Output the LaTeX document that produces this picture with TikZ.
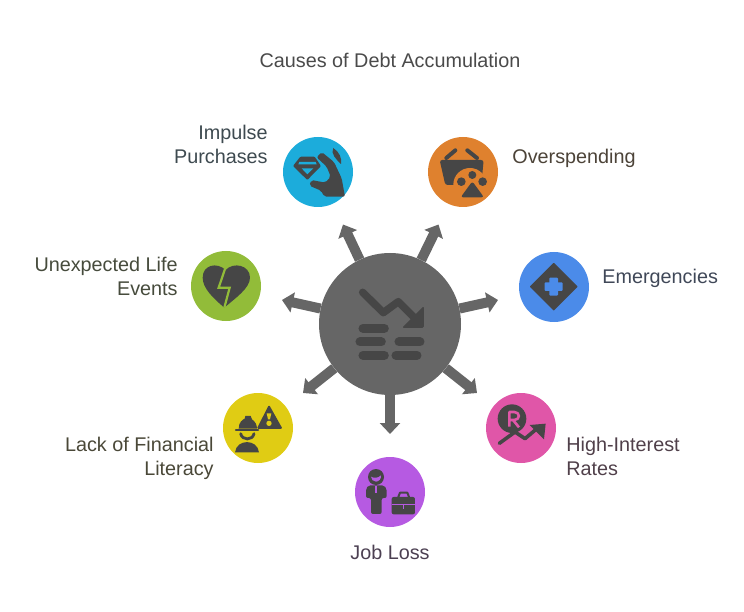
\documentclass[tikz,border=0pt]{standalone}
\usepackage{fontspec}
\setmainfont{Liberation Sans}
\usetikzlibrary{arrows.meta, positioning}
\definecolor{hubgray}{HTML}{666666}
\definecolor{icondark}{HTML}{464646}
\definecolor{impulseblue}{HTML}{1CACDB}
\definecolor{spendorange}{HTML}{DF812E}
\definecolor{emergblue}{HTML}{4B8BE9}
\definecolor{lifegreen}{HTML}{92BC39}
\definecolor{literacyyellow}{HTML}{E0CC14}
\definecolor{jobpurple}{HTML}{B65AE2}
\definecolor{ratepink}{HTML}{E056A8}
\definecolor{titletext}{HTML}{4A4A4A}
\definecolor{impulsetext}{HTML}{3E4A50}
\definecolor{spendtext}{HTML}{4C4338}
\definecolor{emergtext}{HTML}{404858}
\definecolor{lifetext}{HTML}{464B3C}
\definecolor{literacytext}{HTML}{4A4838}
\definecolor{jobtext}{HTML}{4C4052}
\definecolor{ratestext}{HTML}{50404A}
\begin{document}
\begin{tikzpicture}[
        x=1pt, y=-1pt,
        cause/.style={circle, fill=#1, inner sep=0pt, minimum size=70pt},
        label/.style={inner sep=0pt, font=\fontsize{19.8}{24}\selectfont, text=#1},
        hubarrow/.style={draw=hubgray, line width=10pt, -{Triangle[width=20pt,length=11pt]}},
        crop/.style={shift={(#1)}, x=0.3333pt, y=-0.3333pt},
        ico/.style={fill=icondark, draw=none},
        icoline/.style={draw=icondark, line width=#1, line cap=round, line join=round}
    ]
    \useasboundingbox (0,0) rectangle (744,612);

    \node[circle, fill=hubgray, inner sep=0pt, minimum size=142pt] (hub) at (390,324) {};
    \node[cause=impulseblue] (impulse) at (318,172) {};
    \node[cause=spendorange] (spend) at (463,172) {};
    \node[cause=emergblue] (emerg) at (554,287) {};
    \node[cause=lifegreen] (life) at (226,286) {};
    \node[cause=literacyyellow] (literacy) at (258,428) {};
    \node[cause=jobpurple] (job) at (390,492) {};
    \node[cause=ratepink] (rates) at (521,428) {};

    \coordinate (tipimpulse) at (343,224.5);
    \coordinate (tipspend) at (438.5,224.5);
    \coordinate (tipemerg) at (498,300);
    \coordinate (tiplife) at (282,300);
    \coordinate (tipliteracy) at (303,393);
    \coordinate (tipjob) at (390,434);
    \coordinate (tiprates) at (477,393);
    \draw[hubarrow] (hub) -- (tipimpulse);
    \draw[hubarrow] (hub) -- (tipspend);
    \draw[hubarrow] (hub) -- (tipemerg);
    \draw[hubarrow] (hub) -- (tiplife);
    \draw[hubarrow] (hub) -- (tipliteracy);
    \draw[hubarrow] (hub) -- (tipjob);
    \draw[hubarrow] (hub) -- (tiprates);

    \node[label=titletext] (title) at (390,60) {Causes of Debt Accumulation};
    \node[label=impulsetext, align=right, left=15pt of impulse, yshift=28pt] (impulselabel) {Impulse\\Purchases};
    \node[label=spendtext, right=14pt of spend, yshift=14pt] (spendlabel) {Overspending};
    \node[label=emergtext, right=13pt of emerg, yshift=9pt] (emerglabel) {Emergencies};
    \node[label=lifetext, align=right, left=13pt of life, yshift=10pt] (lifelabel) {Unexpected Life\\Events};
    \node[label=literacytext, align=right, left=9pt of literacy, yshift=-30pt] (literacylabel) {Lack of Financial\\Literacy};
    \node[label=jobtext, below=18pt of job] (joblabel) {Job Loss};
    \node[label=ratestext, align=left, right=10pt of rates, yshift=-28pt] (rateslabel) {High-Interest\\Rates};

    % hub icon
    \begin{scope}[crop={290,220}]
        \draw[icoline=7.5pt] (218,217) -- (280,278) -- (325,245) -- (375,295);
        \fill[ico, rounded corners=1.5pt] (402,258) -- (402,324) -- (336,324) -- cycle;
        \draw[icoline=9pt] (219,325) -- (283,325);
        \draw[icoline=9pt] (210,366) -- (274,366);
        \draw[icoline=9pt] (327,366) -- (390,366);
        \draw[icoline=9pt] (219,406) -- (283,406);
        \draw[icoline=9pt] (318,406) -- (381,406);
    \end{scope}

    % impulse icon
    \begin{scope}[crop={270,120}]
        \fill[ico, rounded corners=1pt] (91,110) -- (134,110) -- (153,138) -- (112,180) -- (69,138) -- cycle;
        \fill[impulseblue] (88,126) -- (137,126) -- (140,133) -- (85,133) -- cycle;
        \fill[impulseblue] (95,145) -- (130,145) -- (112,163) -- cycle;
        \fill[ico, rounded corners=2pt] (140,112) -- (155,96) -- (192,126) -- (215,175) -- (225,230) -- (163,230) -- (153,212) -- (118,197) -- (124,180) -- (166,188) -- (182,170) -- (170,140) -- cycle;
        \fill[ico] (190,84) .. controls (207,95) and (217,115) .. (213,132) .. controls (200,120) and (180,100) .. (190,84) -- cycle;
    \end{scope}

    % overspending icon
    \begin{scope}[crop={270,120}]
        \draw[icoline=4pt] (529,114) -- (556,91);
        \draw[icoline=4pt] (592,91) -- (621,114);
        \fill[ico, rounded corners=2.5pt] (509,120) -- (641,120) -- (634,195) -- (526,195) -- cycle;
        \fill[spendorange] (600,194) circle (50);
        \fill[ico] (607,165) circle (12);
        \fill[ico] (574,185) circle (13);
        \fill[ico] (638,185) circle (13);
        \fill[ico, rounded corners=2.5pt] (607,184) -- (642,232) -- (572,232) -- cycle;
    \end{scope}

    % emergencies icon
    \begin{scope}[crop={510,240}]
        \fill[ico, rounded corners=0.5pt] (131,68) -- (203,140) -- (131,212) -- (59,140) -- cycle;
        \fill[emergblue, rounded corners=1pt] (118,113) rectangle (144,167);
        \fill[emergblue, rounded corners=1pt] (104,127) rectangle (158,153);
    \end{scope}

    % unexpected life events icon
    \begin{scope}[crop={195,255}]
        \fill[ico] (92,45) .. controls (115,20) and (165,30) .. (165,68) .. controls (165,100) and (120,130) .. (88,158) .. controls (55,130) and (23,100) .. (23,68) .. controls (23,30) and (65,20) .. (92,45) -- cycle;
        \draw[lifegreen, line width=2.2pt, line join=miter] (90,42) -- (71,98) -- (104,98) -- (88,158);
    \end{scope}

    % lack of financial literacy icon
    \begin{scope}[crop={228,398}]
        \fill[ico, rounded corners=1.5pt] (123,20) -- (164,93) -- (86,93) -- cycle;
        \fill[literacyyellow] (116,46) -- (130,46) -- (126,64) -- (120,64) -- cycle;
        \fill[literacyyellow] (123,76) circle (8);
        \fill[ico] (32,92) .. controls (32,72) and (44,65) .. (50,62) -- (52,54) -- (68,54) -- (72,64) .. controls (82,70) and (87,82) .. (87,92) -- cycle;
        \draw[icoline=2.4pt] (24,96) -- (90,96);
        \draw[icoline=2.8pt] (38,107) .. controls (42,128) and (74,128) .. (78,107);
        \fill[ico] (21,163) .. controls (26,122) and (88,122) .. (93,163) -- cycle;
    \end{scope}

    % job loss icon
    \begin{scope}[crop={360,462}]
        \fill[ico] (48,45) circle (24);
        \fill[jobpurple] (33,44) .. controls (42,50) and (55,48) .. (63,40) .. controls (65,50) and (56,59) .. (48,59) .. controls (40,59) and (33,52) .. (33,44) -- cycle;
        \fill[ico, rounded corners=2pt] (25,70) -- (72,70) -- (80,80) -- (80,108) -- (65,108) -- (65,156) -- (33,156) -- (33,108) -- (18,108) -- (18,80) -- cycle;
        \draw[jobpurple, line width=1.3pt] (48,72) -- (48,94);
        \fill[ico, rounded corners=2pt] (95,105) rectangle (165,157);
        \draw[icoline=2pt] (115,105) -- (120,92) -- (142,92) -- (147,105);
        \draw[jobpurple, line width=1.1pt] (95,128) -- (165,128);
        \draw[jobpurple, line width=1.1pt] (130,128) -- (130,141);
    \end{scope}

    % high-interest rates icon
    \begin{scope}[crop={491,398}]
        \fill[ico] (63,62) circle (43);
        \draw[ratepink, line width=2.6pt, line join=round] (55,86) -- (55,42) -- (70,42) .. controls (88,42) and (88,66) .. (70,66) -- (57,66);
        \draw[ratepink, line width=2.6pt] (66,66) -- (84,88);
        \draw[icoline=3.6pt] (25,136) -- (72,102) -- (102,122) -- (140,90);
        \fill[ico] (116,81) -- (164,77) -- (159,124) -- cycle;
    \end{scope}

\end{tikzpicture}
\end{document}
